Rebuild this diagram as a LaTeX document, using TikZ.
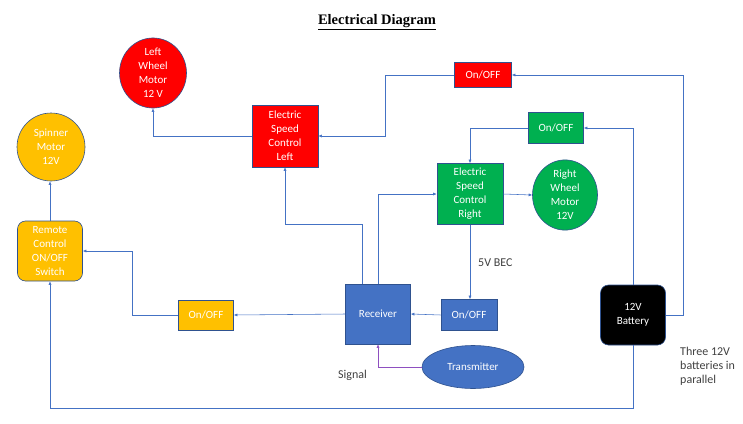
\documentclass[tikz,border=0pt]{standalone}
\usepackage{fontspec}
\setmainfont{Carlito}
\newfontfamily\titlefont{Liberation Serif}
\usetikzlibrary{shapes.geometric,arrows.meta}
\definecolor{lnblue}{HTML}{4472C4}
\definecolor{edge}{HTML}{2F528F}
\definecolor{boxred}{HTML}{FF0000}
\definecolor{boxgreen}{HTML}{00B050}
\definecolor{boxyellow}{HTML}{FFC000}
\definecolor{boxblue}{HTML}{4472C4}
\definecolor{sigpurple}{HTML}{8E4FC0}
\definecolor{labelgray}{HTML}{404040}
\tikzset{
  shp/.style={draw=edge, line width=0.6pt, text=white, align=center, inner sep=0pt,
    font=\fontsize{11}{14}\selectfont},
  circ/.style={shp, ellipse},
  conn/.style={draw=lnblue, line width=0.55pt, -{Latex[length=3.5pt,width=3pt]}},
  sig/.style={draw=sigpurple, line width=0.55pt, -{Latex[length=3.5pt,width=3pt]}},
  lbl/.style={text=labelgray, font=\fontsize{12}{14}\selectfont, inner sep=0pt}
}
\begin{document}
\begin{tikzpicture}[x=1pt,y=-1pt]
\useasboundingbox (0,0) rectangle (743,423);
% title
\node (title) at (377,22) {\titlefont\fontsize{14.5}{16}\selectfont\bfseries\underline{Electrical\ Diagram}};
% shapes
\node[circ, fill=boxred, minimum width=67pt, minimum height=61pt] (leftwheel) at (153,73) {Left\\Wheel\\Motor\\12 V};
\node[shp, fill=boxred, minimum width=57pt, minimum height=25pt] (redonoff) at (483,75) {On/OFF};
\node[shp, fill=boxred, minimum width=66pt, minimum height=62pt] (escleft) at (285,136) {Electric\\Speed\\Control\\Left};
\node[circ, fill=boxyellow, minimum width=68pt, minimum height=68pt] (spinner) at (51,147) {Spinner\\Motor\\12V};
\node[shp, fill=boxyellow, rounded corners=8pt, minimum width=65pt, minimum height=60pt] (remote) at (50,251) {Remote\\Control\\ON/OFF\\Switch};
\node[shp, fill=boxgreen, minimum width=55pt, minimum height=31pt] (greenonoff) at (556,128) {On/OFF};
\node[shp, fill=boxgreen, minimum width=66pt, minimum height=61pt] (escright) at (470,194) {Electric\\Speed\\Control\\Right};
\node[circ, fill=boxgreen, minimum width=65pt, minimum height=60pt] (rightwheel) at (565,195) {Right\\Wheel\\Motor\\12V};
\node[shp, fill=boxblue, minimum width=65pt, minimum height=60pt] (receiver) at (378,314) {Receiver};
\node[shp, fill=boxblue, minimum width=56pt, minimum height=31pt] (blueonoff) at (469,315) {On/OFF};
\node[shp, fill=boxyellow, minimum width=55pt, minimum height=30pt] (yellowonoff) at (206,315) {On/OFF};
\node[circ, fill=boxblue, minimum width=102pt, minimum height=43pt] (transmitter) at (473,367) {Transmitter};
\node[shp, fill=black, draw=edge, rounded corners=8pt, minimum width=65pt, minimum height=60pt] (battery) at (633,315) {12V\\Battery};
% labels
\node[lbl, anchor=west] (bec) at (478,263) {5V BEC};
\node[lbl, anchor=west] (signal) at (338,375) {Signal};
\node[lbl, anchor=north west, align=left] (three) at (680,347) {Three 12V\\batteries in\\parallel};
% connectors
\draw[conn] (battery.east) -- ++(17,0) |- (redonoff.east);
\draw[conn] (redonoff.west) -- ++(-69,0) |- (escleft.east);
\draw[conn] (escleft.west) -| (leftwheel.south);
\draw[conn] (battery.north) |- (greenonoff.east);
\draw[conn] (greenonoff.west) -| (escright.north);
\draw[conn] (escright.east) -- (rightwheel.west);
\draw[conn] (escright.south) -- (escright.south |- blueonoff.north);
\draw[conn] (blueonoff.west) -- (receiver.east);
\draw[conn] ([xshift=-16pt]receiver.north) -- ++(0,-59) -| (escleft.south);
\draw[conn] (receiver.north) |- (escright.west);
\draw[conn] (receiver.west) -- (yellowonoff.east);
\draw[conn] (yellowonoff.west) -- ++(-46,0) |- (remote.east);
\draw[conn] (remote.north) -- (remote.north |- spinner.south);
\draw[conn] (battery.south) -- ++(0,63) -| (remote.south);
\draw[sig] (transmitter.west) -| (receiver.south);
\end{tikzpicture}
\end{document}
